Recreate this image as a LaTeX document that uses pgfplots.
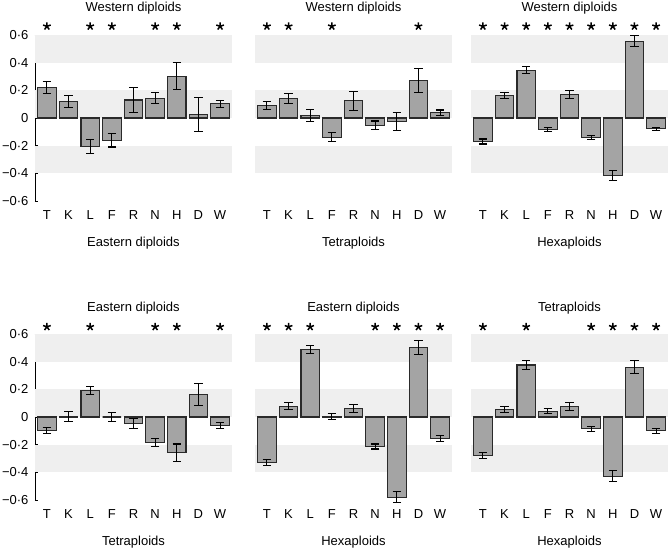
\documentclass[border=0pt]{standalone}
\usepackage{fontspec}
\setmainfont{Liberation Sans}
\usepackage{pgfplots}
\usepackage{pgfplotstable}
\pgfplotsset{compat=1.18}
\definecolor{band}{HTML}{EFEFEF}
\definecolor{barfill}{HTML}{A4A4A4}
\definecolor{baredge}{HTML}{2A2A2A}

\pgfplotstableread{
x y e
0 0.222 0.042
1 0.120 0.042
2 -0.205 0.050
3 -0.160 0.050
4 0.130 0.092
5 0.143 0.040
6 0.303 0.095
7 0.025 0.120
8 0.103 0.024
}\tabA
\pgfplotstableread{
x y e
0 0.090 0.027
1 0.143 0.035
2 0.019 0.043
3 -0.138 0.031
4 0.124 0.070
5 -0.052 0.030
6 -0.025 0.065
7 0.270 0.085
8 0.038 0.020
}\tabB
\pgfplotstableread{
x y e
0 -0.170 0.018
1 0.163 0.020
2 0.346 0.027
3 -0.083 0.016
4 0.170 0.030
5 -0.142 0.015
6 -0.414 0.036
7 0.555 0.040
8 -0.078 0.012
}\tabC
\pgfplotstableread{
x y e
0 -0.099 0.020
1 0.005 0.035
2 0.190 0.030
3 0.000 0.034
4 -0.050 0.036
5 -0.182 0.028
6 -0.257 0.062
7 0.165 0.080
8 -0.062 0.020
}\tabD
\pgfplotstableread{
x y e
0 -0.330 0.022
1 0.078 0.027
2 0.486 0.030
3 0.003 0.020
4 0.062 0.030
5 -0.213 0.018
6 -0.580 0.040
7 0.500 0.050
8 -0.155 0.020
}\tabE
\pgfplotstableread{
x y e
0 -0.278 0.020
1 0.055 0.023
2 0.376 0.030
3 0.043 0.020
4 0.078 0.030
5 -0.086 0.020
6 -0.427 0.040
7 0.360 0.047
8 -0.100 0.018
}\tabF

\pgfplotsset{
  panel/.style={
    scale only axis, width=197pt, height=166pt,
    xmin=-0.55, xmax=8.55, ymin=-0.6, ymax=0.6,
    clip=false,
    axis lines*=left,
    x axis line style={draw=none},
    xtick={0,1,2,3,4,5,6,7,8},
    xticklabels={T,K,L,F,R,N,H,D,W},
    major x tick style={draw=none},
    xticklabel style={anchor=center, yshift=-14.5pt},
    tick align=inside, major tick length=3pt,
    ytick={-0.6,-0.4,-0.2,0,0.2,0.4,0.6},
    yticklabels={−0·6,−0·4,−0·2,0,0·2,0·4,0·6},
    yticklabel style={xshift=-3pt},
    tick style={black, line width=0.8pt},
    axis line style={black, line width=0.8pt},
    font=\fontsize{13}{15}\selectfont,
    every axis title/.style={at={(axis description cs:0.5,1)}, anchor=center, yshift=27pt},
    every axis x label/.style={at={(axis description cs:0.5,0)}, anchor=center, yshift=-42.5pt},
  },
  noy/.style={ytick=\empty, y axis line style={draw=none}},
  bars/.style={ybar, bar width=18.5pt, bar shift=0pt, fill=barfill, draw=baredge, line width=1.1pt,
    error bars/.cd, y dir=both, y explicit,
    error bar style={black, line width=1.1pt},
    error mark options={rotate=90, mark size=4.2pt, black, line width=1.1pt}},
  stars/.style={only marks, mark=star, mark size=4pt, mark options={black, line width=1.5pt}},
}
\newcommand{\bands}{%
  \fill[band] (axis cs:-0.55,0.4) rectangle (axis cs:8.55,0.6);
  \fill[band] (axis cs:-0.55,0.0) rectangle (axis cs:8.55,0.2);
  \fill[band] (axis cs:-0.55,-0.2) rectangle (axis cs:8.55,-0.4);
}

\begin{document}
\begin{tikzpicture}[x=1pt,y=1pt]
\useasboundingbox (0,0) rectangle (668,549);
% Row 1
\begin{axis}[panel, at={(35pt,348pt)}, title={Western diploids}, xlabel={Eastern diploids}]
\bands
\addplot[bars] table[x=x,y=y,y error=e]{\tabA};
\addplot[stars] coordinates {(0,0.663) (2,0.663) (3,0.663) (5,0.663) (6,0.663) (8,0.663)};
\end{axis}
\begin{axis}[panel, noy, at={(255pt,348pt)}, title={Western diploids}, xlabel={Tetraploids}]
\bands
\addplot[bars] table[x=x,y=y,y error=e]{\tabB};
\addplot[stars] coordinates {(0,0.663) (1,0.663) (3,0.663) (7,0.663)};
\end{axis}
\begin{axis}[panel, noy, at={(471pt,348pt)}, title={Western diploids}, xlabel={Hexaploids}]
\bands
\addplot[bars] table[x=x,y=y,y error=e]{\tabC};
\addplot[stars] coordinates {(0,0.663) (1,0.663) (2,0.663) (3,0.663) (4,0.663) (5,0.663) (6,0.663) (7,0.663) (8,0.663)};
\end{axis}
% Row 2
\begin{axis}[panel, at={(35pt,49pt)}, title={Eastern diploids}, xlabel={Tetraploids},
  every axis title/.append style={yshift=-1pt}]
\bands
\addplot[bars] table[x=x,y=y,y error=e]{\tabD};
\addplot[stars] coordinates {(0,0.652) (2,0.652) (5,0.652) (6,0.652) (8,0.652)};
\end{axis}
\begin{axis}[panel, noy, at={(255pt,49pt)}, title={Eastern diploids}, xlabel={Hexaploids},
  every axis title/.append style={yshift=-1pt}]
\bands
\addplot[bars] table[x=x,y=y,y error=e]{\tabE};
\addplot[stars] coordinates {(0,0.652) (1,0.652) (2,0.652) (5,0.652) (6,0.652) (7,0.652) (8,0.652)};
\end{axis}
\begin{axis}[panel, noy, at={(471pt,49pt)}, title={Tetraploids}, xlabel={Hexaploids},
  every axis title/.append style={yshift=-1pt}]
\bands
\addplot[bars] table[x=x,y=y,y error=e]{\tabF};
\addplot[stars] coordinates {(0,0.652) (2,0.652) (5,0.652) (6,0.652) (7,0.652) (8,0.652)};
\end{axis}
\end{tikzpicture}
\end{document}
